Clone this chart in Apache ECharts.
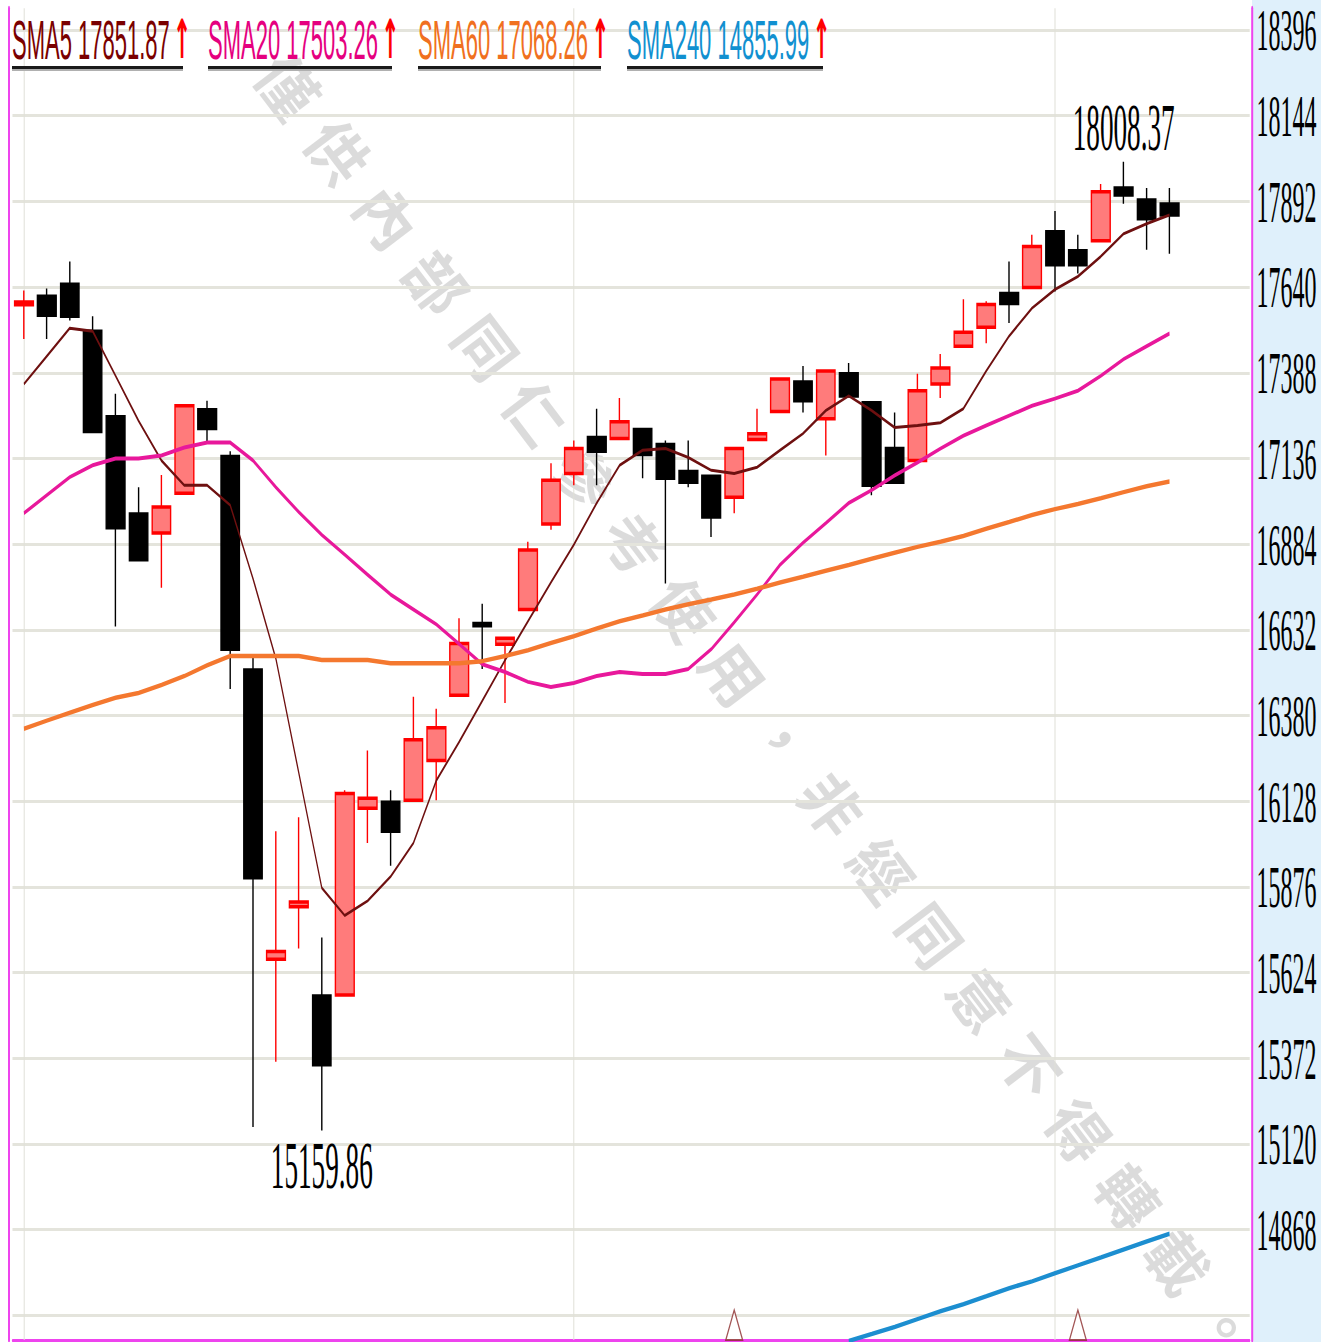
<!DOCTYPE html>
<html>
<head>
<meta charset="utf-8">
<script src="https://cdn.jsdelivr.net/npm/echarts@6/dist/echarts.min.js"></script>
<style>
html, body { margin: 0; padding: 0; background: #fff; }
#wrap { width: 1321px; height: 1342px; overflow: hidden; position: relative;
  background: linear-gradient(to right, #fff 0, #fff 1252px, #dff0fb 1252px); }
/* the source picture is squeezed sideways, so draw wide and squeeze */
#chart { width: 3303px; height: 1342px; transform: scaleX(0.4); transform-origin: 0 0; }
</style>
</head>
<body>
<div id="wrap"><div id="chart"></div></div>
<script>
const SX = 0.4

const days = Array.from({ length: 51 }, (_, i) => 'D' + (i + 1))

// [open, close, low, high]
const candles = [
  [17588, 17596, 17487, 17630], [17613, 17557, 17487, 17636], [17648, 17554, 17542, 17715],
  [17510, 17215, 17212, 17554], [17259, 16932, 16642, 17326], [16973, 16838, 16835, 17051],
  [16917, 16993, 16756, 17087], [17034, 17291, 17030, 17295], [17279, 17224, 17186, 17306],
  [17142, 16575, 16458, 17157], [16514, 15903, 15170, 16552], [15663, 15686, 15362, 16040],
  [15818, 15832, 15695, 16081], [15555, 15353, 15159.86, 15727], [15558, 16151, 15555, 16160],
  [16107, 16137, 16005, 16277], [16125, 16040, 15938, 16160], [16131, 16309, 16128, 16435],
  [16248, 16344, 16131, 16400], [16440, 16592, 16437, 16666], [16651, 16644, 16517, 16709],
  [16590, 16607, 16417, 16610], [16692, 16867, 16690, 16891], [16943, 17072, 16926, 17122],
  [17092, 17165, 17057, 17189], [17198, 17157, 17057, 17282], [17195, 17244, 17192, 17314],
  [17221, 17148, 17078, 17224], [17177, 17078, 16768, 17189], [17098, 17066, 17051, 17189],
  [17084, 16964, 16905, 17088], [17022, 17165, 16975, 17168], [17192, 17209, 17190, 17282],
  [17274, 17370, 17271, 17373], [17361, 17306, 17271, 17408], [17253, 17393, 17145, 17396],
  [17385, 17320, 17318, 17417], [17300, 17057, 17028, 17303], [17165, 17066, 17063, 17271],
  [17130, 17335, 17127, 17385], [17355, 17402, 17314, 17443], [17466, 17507, 17463, 17604],
  [17522, 17589, 17475, 17598], [17621, 17592, 17534, 17715], [17639, 17759, 17636, 17794],
  [17803, 17706, 17627, 17864], [17747, 17706, 17680, 17794], [17776, 17920, 17773, 17943],
  [17931, 17911, 17885, 18008.37], [17896, 17841, 17750, 17931], [17884, 17852, 17738, 17931]
]

const sma5 = [17355, 17437, 17519, 17510, 17379, 17247, 17130, 17057, 17057, 16999,
  16782, 16546, 16210, 15873, 15792, 15835, 15906, 16005, 16189, 16303,
  16423, 16543, 16657, 16771, 16882, 17005, 17116, 17160, 17165, 17139,
  17101, 17092, 17110, 17160, 17209, 17277, 17320, 17277, 17227, 17233,
  17241, 17282, 17393, 17496, 17578, 17633, 17671, 17730, 17797, 17826, 17851.87]

const sma20 = [16975, 17028, 17081, 17116, 17136, 17136, 17145, 17168, 17183, 17183,
  17130, 17051, 16978, 16911, 16853, 16794, 16736, 16692, 16648, 16590,
  16531, 16508, 16479, 16464, 16476, 16496, 16508, 16502, 16502, 16517,
  16575, 16654, 16736, 16823, 16888, 16946, 17005, 17043, 17086, 17124,
  17165, 17203, 17233, 17262, 17291, 17312, 17335, 17379, 17428, 17466, 17503.26]

const sma60 = [16341, 16365, 16388, 16411, 16432, 16446, 16470, 16496, 16528, 16555,
  16555, 16555, 16555, 16543, 16543, 16543, 16534, 16534, 16534, 16534,
  16540, 16555, 16572, 16593, 16613, 16636, 16657, 16674, 16692, 16707,
  16721, 16736, 16753, 16771, 16788, 16806, 16823, 16841, 16859, 16876,
  16891, 16908, 16929, 16949, 16970, 16987, 17002, 17019, 17037, 17054, 17068.26]

const sma240 = ['-', '-', '-', '-', '-', '-', '-', '-', '-', '-',
  '-', '-', '-', '-', '-', '-', '-', '-', '-', '-',
  '-', '-', '-', '-', '-', '-', '-', '-', '-', '-',
  '-', '-', '-', '-', '-', '-', 14541, 14561, 14582, 14605,
  14628, 14649, 14672, 14696, 14716, 14740, 14763, 14786, 14810, 14833, 14855.99]

const maNames = ['SMA5', 'SMA20', 'SMA60', 'SMA240']
const maLast = [17851.87, 17503.26, 17068.26, 14855.99]
const maLines = [sma5, sma20, sma60, sma240]

const yTicks = [14616, 14868, 15120, 15372, 15624, 15876, 16128, 16380, 16632,
  16884, 17136, 17388, 17640, 17892, 18144, 18396]
const yLabels = [14868, 15120, 15372, 15624, 15876, 16128, 16380, 16632,
  16884, 17136, 17388, 17640, 17892, 18144, 18396]
const yMin = 14543.6
const yMax = 18460.3

const monthStarts = [0, 24, 45]
const signalDays = [31, 46]

const watermark = '僅供內部同仁參考使用，非經同意不得轉載。'

// styles
const lineColors = ['#6e1010', '#e8189b', '#f4782f', '#1c8ed0']
const textColors = ['#7a0000', '#e5007f', '#f07020', '#1190d0']
const lineWidths = [3, 4, 4.5, 4.5]
const legendX = [12, 208, 418, 627]      // screen px
const legendEnd = [183, 392, 601, 823]
const sx = v => v / SX

const graphic = []
maNames.forEach((n, i) => {
  graphic.push({
    type: 'text', x: sx(legendX[i]), y: 40, z: 10, silent: true,
    style: {
      text: `{t|${n} ${maLast[i].toFixed(2)}}{a|↑}`,
      verticalAlign: 'middle',
      rich: {
        t: { fill: textColors[i], fontSize: 55, fontFamily: '"Liberation Sans", Arial, sans-serif' },
        a: { fill: '#ff0000', fontSize: 54, fontWeight: 'bold', fontFamily: '"DejaVu Sans", sans-serif', padding: [0, 0, 0, 8] }
      }
    }
  })
  graphic.push({
    type: 'rect', z: 10, silent: true,
    shape: { x: sx(legendX[i]), y: 66, width: sx(legendEnd[i] - legendX[i]), height: 3 },
    style: { fill: '#1a1a1a' }
  })
  graphic.push({
    type: 'rect', z: 10, silent: true,
    shape: { x: sx(legendX[i]), y: 69, width: sx(legendEnd[i] - legendX[i]), height: 2 },
    style: { fill: '#b0b0b0' }
  })
})

// watermark, laid out in screen px (group undoes the squeeze)
const wmChars = watermark.split('').map((ch, k) => ({
  type: 'text',
  x: 340 + 49.4 * (k - 1),
  y: 150 + 65.3 * (k - 1),
  rotation: -0.923,
  style: {
    text: ch, fill: 'rgba(0,0,0,0.14)', fontSize: 60, fontWeight: 'bold',
    fontFamily: '"Noto Sans CJK TC", sans-serif', align: 'center', verticalAlign: 'middle'
  }
}))
graphic.push({ type: 'group', x: 0, y: 0, scaleX: 1 / SX, z: 1, silent: true, children: wmChars })

const chart = echarts.init(document.getElementById('chart'), null, { renderer: 'svg' })

const serifFont = '"Liberation Serif", "Times New Roman", serif'

chart.setOption({
  animation: false,
  backgroundColor: 'transparent',
  grid: { left: sx(12.5), right: sx(71.5), top: 0, bottom: 2 },
  xAxis: {
    type: 'category', data: days, max: 53, boundaryGap: true,
    axisLine: { show: true, lineStyle: { color: '#ee44ee', width: 3 } },
    axisTick: { show: false }, axisLabel: { show: false }, splitLine: { show: false }
  },
  yAxis: [{
    type: 'value', position: 'right', min: yMin, max: yMax, offset: 6, scale: true,
    axisLine: { show: true, lineStyle: { color: '#ee44ee', width: 5 } },
    axisTick: { show: false, customValues: yTicks },
    axisLabel: {
      customValues: yLabels, color: '#000', fontSize: 60, lineHeight: 42, fontFamily: serifFont,
      margin: 11, formatter: v => String(v)
    },
    splitLine: { show: true, lineStyle: { color: '#e4e4dc', width: 3 } }
  }, {
    type: 'value', position: 'left', min: yMin, max: yMax, offset: 9,
    axisLine: { show: true, lineStyle: { color: '#ee44ee', width: 5 } },
    axisTick: { show: false }, axisLabel: { show: false }, splitLine: { show: false }
  }],
  graphic,
  series: [
    {
      name: 'month', type: 'line', data: [], z: 1, silent: true,
      markLine: {
        silent: true, symbol: 'none', z: 1, animation: false,
        label: { show: false },
        lineStyle: { color: '#e0e0d8', width: 2.5, type: 'solid' },
        data: monthStarts.map(i => ({ xAxis: i }))
      }
    },
    {
      name: 'K', type: 'candlestick', data: candles, barWidth: 47, z: 2,
      itemStyle: {
        color: '#ff7b7b', color0: '#000000',
        borderColor: '#ff0000', borderColor0: '#000000', borderWidth: 3.5
      },
      markPoint: {
        symbol: 'circle', symbolSize: 1, silent: true,
        itemStyle: { color: 'transparent' },
        label: {
          show: true, color: '#000', fontSize: 68, fontFamily: serifFont,
          formatter: p => Number(p.value).toFixed(2)
        },
        data: [
          { type: 'max', valueDim: 'highest', label: { position: 'top', distance: 0 } },
          { type: 'min', valueDim: 'lowest', label: { position: 'bottom', distance: 0 } }
        ]
      }
    },
    ...maNames.map((n, i) => ({
      name: n, type: 'line', data: maLines[i], symbol: 'none', z: 3, silent: true,
      lineStyle: { color: lineColors[i], width: lineWidths[i] }
    })),
    {
      name: 'signal', type: 'scatter', z: 3, clip: false, silent: true,
      data: signalDays.map(i => [i, yMin]),
      symbol: 'triangle', symbolSize: [42, 30], symbolOffset: [0, -15],
      itemStyle: { color: '#ffffff', borderColor: '#8b2a2a', borderWidth: 2.5 }
    }
  ]
})
</script>
</body>
</html>
